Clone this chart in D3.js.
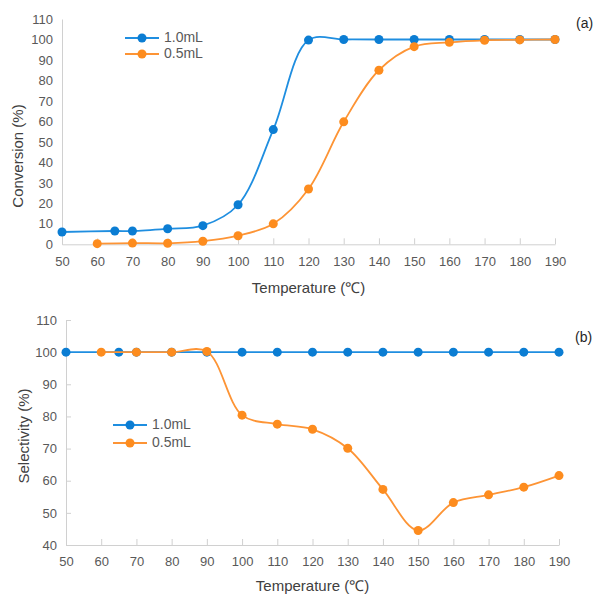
<!DOCTYPE html>
<html>
<head>
<meta charset="utf-8">
<script src="https://cdn.jsdelivr.net/npm/d3@7"></script>
<style>
  body { margin: 0; background: #fff; }
  svg { display: block; font-family: "Liberation Sans", Arial, sans-serif; }
</style>
</head>
<body>
<svg id="chart" width="595" height="595"></svg>
<script>
"use strict";

// ---- data ----
const xTicks = [50, 60, 70, 80, 90, 100, 110, 120, 130, 140, 150, 160, 170, 180, 190];
const convTicks = [0, 10, 20, 30, 40, 50, 60, 70, 80, 90, 100, 110];
const selTicks = [40, 50, 60, 70, 80, 90, 100, 110];

const temp10 = [50, 65, 70, 80, 90, 100, 110, 120, 130, 140, 150, 160, 170, 180, 190];
const temp05 = [60, 70, 80, 90, 100, 110, 120, 130, 140, 150, 160, 170, 180, 190];

const conv10 = [6, 6.5, 6.5, 7.6, 9.1, 19.3, 56, 99.7, 100, 100, 100, 100, 100, 100, 100];
const conv05 = [0.3, 0.6, 0.5, 1.5, 4.2, 10, 27, 59.8, 85, 96.5, 98.6, 99.6, 99.8, 100];

const sel10 = [100, 100, 100, 100, 100, 100, 100, 100, 100, 100, 100, 100, 100, 100, 100];
const sel05 = [100, 100, 100, 100.2, 80.4, 77.6, 76, 70.1, 57.3, 44.5, 53.2, 55.6, 58, 61.6];

const seriesNames = ["1.0mL", "0.5mL"];
const colors = { "1.0mL": "#0b7dd3", "0.5mL": "#fd8c1e" };
const lineColors = { "1.0mL": "#1f8ee0", "0.5mL": "#fd9435" };

const svg = d3.select("#chart");

function drawPanel(opts) {
    const x = d3.scaleLinear().domain([50, 190]).range(opts.xRange);
    const y = d3.scaleLinear().domain(opts.yDomain).range(opts.yRange);
    const g = svg.append("g");

    // x axis (ticks pointing up, inside the plot)
    g.append("g")
        .attr("transform", `translate(0,${opts.yRange[0]})`)
        .call(d3.axisBottom(x).tickValues(xTicks).tickSize(-6).tickSizeOuter(0).tickPadding(12))
        .call(a => a.select(".domain").attr("stroke", "#d0d0d0"))
        .call(a => a.selectAll(".tick line").attr("stroke", "#d0d0d0"))
        .call(a => a.selectAll(".tick text").attr("fill", "#595959").style("font-size", "13px"));

    // y axis
    g.append("g")
        .attr("transform", `translate(${opts.xRange[0]},0)`)
        .call(d3.axisLeft(y).tickValues(opts.yTicks).tickSize(opts.yTickSize).tickSizeOuter(0).tickPadding(9))
        .call(a => a.select(".domain").attr("stroke", "#d0d0d0"))
        .call(a => a.selectAll(".tick line").attr("stroke", "#d0d0d0"))
        .call(a => a.selectAll(".tick text").attr("fill", "#595959").style("font-size", "13px"));

    // axis titles
    g.append("text")
        .attr("x", (opts.xRange[0] + opts.xRange[1]) / 2)
        .attr("y", opts.xTitleY)
        .attr("text-anchor", "middle")
        .attr("dominant-baseline", "middle")
        .attr("fill", "#404040")
        .style("font-size", "15px")
        .text("Temperature (℃)");

    g.append("text")
        .attr("transform", `translate(${opts.yTitleX},${opts.yTitleY}) rotate(-90)`)
        .attr("text-anchor", "middle")
        .attr("dominant-baseline", "middle")
        .attr("fill", "#404040")
        .style("font-size", "15px")
        .text(opts.yTitle);

    // panel label
    g.append("text")
        .attr("x", opts.labelX)
        .attr("y", opts.labelY)
        .attr("dominant-baseline", "middle")
        .attr("fill", "#262626")
        .style("font-size", "14px")
        .text(opts.label);

    const line = d3.line()
        .x(d => x(d[0]))
        .y(d => y(d[1]))
        .curve(d3.curveCatmullRom.alpha(0.5));

    opts.series.forEach(s => {
        const pts = s.xs.map((t, i) => [t, s.ys[i]]);
        g.append("path")
            .attr("fill", "none")
            .attr("stroke", lineColors[s.name])
            .attr("stroke-width", 1.8)
            .attr("d", line(pts));
        g.append("g")
            .selectAll("circle")
            .data(pts)
            .join("circle")
            .attr("cx", d => x(d[0]))
            .attr("cy", d => y(d[1]))
            .attr("r", 4.5)
            .attr("fill", colors[s.name]);
    });

    // legend
    const lg = g.append("g");
    seriesNames.forEach((name, i) => {
        const ly = opts.legendY + i * opts.legendGap;
        lg.append("line")
            .attr("x1", opts.legendX).attr("x2", opts.legendX + 34)
            .attr("y1", ly).attr("y2", ly)
            .attr("stroke", lineColors[name]).attr("stroke-width", 1.8);
        lg.append("circle")
            .attr("cx", opts.legendX + 17).attr("cy", ly).attr("r", 4.5)
            .attr("fill", colors[name]);
        lg.append("text")
            .attr("x", opts.legendX + 39).attr("y", ly)
            .attr("dominant-baseline", "middle")
            .attr("fill", "#595959")
            .style("font-size", "14px")
            .text(name);
    });
}

// (a) conversion
drawPanel({
    xRange: [62, 555],
    yRange: [244.3, 19],
    yDomain: [0, 110],
    yTicks: convTicks,
    yTickSize: 0,
    xTitleY: 289,
    yTitle: "Conversion (%)",
    yTitleX: 19,
    yTitleY: 156,
    label: "(a)",
    labelX: 576,
    labelY: 24,
    legendX: 125,
    legendY: 38,
    legendGap: 16,
    series: [
        { name: "1.0mL", xs: temp10, ys: conv10 },
        { name: "0.5mL", xs: temp05, ys: conv05 }
    ]
});

// (b) selectivity
drawPanel({
    xRange: [66, 559],
    yRange: [545, 320],
    yDomain: [40, 110],
    yTicks: selTicks,
    yTickSize: -5,
    xTitleY: 587,
    yTitle: "Selectivity (%)",
    yTitleX: 25,
    yTitleY: 436,
    label: "(b)",
    labelX: 575,
    labelY: 338,
    legendX: 113,
    legendY: 425,
    legendGap: 18,
    series: [
        { name: "1.0mL", xs: temp10, ys: sel10 },
        { name: "0.5mL", xs: temp05, ys: sel05 }
    ]
});
</script>
</body>
</html>
